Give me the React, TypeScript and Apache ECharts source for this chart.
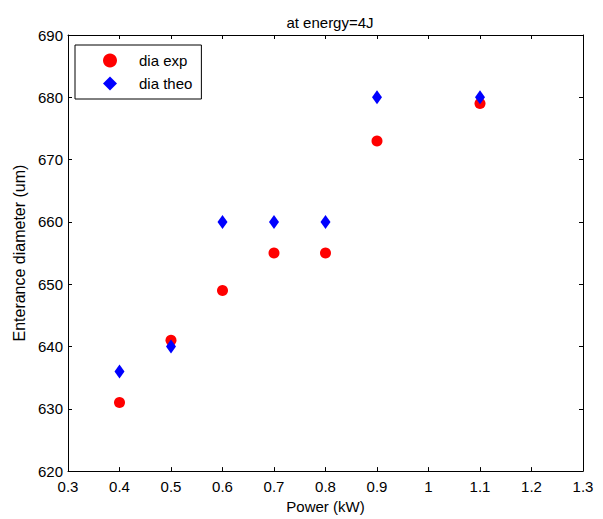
import React, { useEffect, useRef } from "react";
import * as echarts from "echarts";

const powerKW = [0.4, 0.5, 0.6, 0.7, 0.8, 0.9, 1.1];
const diaExp = [631, 641, 649, 655, 655, 673, 679];
const diaTheo = [636, 640, 660, 660, 660, 680, 680];

const FONT = "'Liberation Sans', Arial, sans-serif";

export default function App() {
  const ref = useRef<HTMLDivElement>(null);
  useEffect(() => {
    if (!ref.current) return;
    const chart = echarts.init(ref.current, undefined, { renderer: "svg" });
    const xBase = {
      type: "value" as const,
      min: 0.3,
      max: 1.3,
      interval: 0.1,
      splitLine: { show: false },
      axisLine: { show: true, onZero: false, lineStyle: { color: "#000", width: 1 } },
      axisTick: { show: true, inside: true, length: 4, lineStyle: { color: "#000" } },
    };
    const yBase = {
      type: "value" as const,
      min: 620,
      max: 690,
      interval: 10,
      splitLine: { show: false },
      axisLine: { show: true, onZero: false, lineStyle: { color: "#000", width: 1 } },
      axisTick: { show: true, inside: true, length: 4, lineStyle: { color: "#000" } },
    };
    chart.setOption({
      animation: false,
      backgroundColor: "#fff",
      textStyle: { fontFamily: FONT },
      title: {
        text: "at energy=4J",
        left: 325,
        top: 10,
        textAlign: "center",
        textStyle: { fontSize: 15, fontWeight: "normal", color: "#000", fontFamily: FONT },
      },
      grid: { left: 68, top: 35, right: 20, bottom: 47, containLabel: false },
      legend: {
        left: 75,
        top: 45,
        orient: "vertical",
        padding: [8, 9, 8, 28],
        itemWidth: 14,
        itemHeight: 14,
        itemGap: 8,
        borderColor: "#000",
        borderWidth: 1,
        borderRadius: 0,
        textStyle: { fontSize: 15, color: "#000", fontFamily: FONT, padding: [0, 0, 0, 17] },
        data: ["dia exp", "dia theo"],
      },
      xAxis: [
        {
          ...xBase,
          position: "bottom",
          name: "Power (kW)",
          nameLocation: "middle",
          nameGap: 26,
          nameTextStyle: { fontSize: 15, color: "#000", fontFamily: FONT },
          axisLabel: { fontSize: 15, color: "#000", margin: 8, fontFamily: FONT },
        },
        {
          ...xBase,
          position: "top",
          axisLabel: { show: false },
        },
      ],
      yAxis: [
        {
          ...yBase,
          position: "left",
          name: "Enterance diameter (um)",
          nameLocation: "middle",
          nameGap: 40,
          nameTextStyle: { fontSize: 16, color: "#000", fontFamily: FONT },
          axisLabel: { fontSize: 15, color: "#000", margin: 5, fontFamily: FONT },
        },
        {
          ...yBase,
          position: "right",
          axisLabel: { show: false },
        },
      ],
      series: [
        {
          name: "dia exp",
          type: "scatter",
          symbol: "circle",
          symbolSize: 11,
          itemStyle: { color: "#ff0000", opacity: 1 },
          data: powerKW.map((x, i) => [x, diaExp[i]]),
        },
        {
          name: "dia theo",
          type: "scatter",
          symbol: "diamond",
          symbolSize: [10, 14],
          itemStyle: { color: "#0000ff", opacity: 1 },
          data: powerKW.map((x, i) => [x, diaTheo[i]]),
        },
      ],
    });
    return () => chart.dispose();
  }, []);
  return <div ref={ref} style={{ width: 603, height: 519, position: "absolute", left: 0, top: 0 }} />;
}
